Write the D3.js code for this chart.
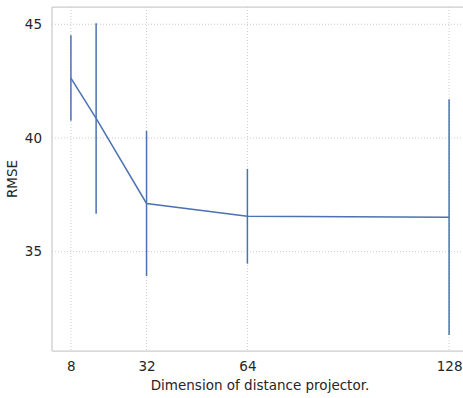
<!DOCTYPE html>
<html><head><meta charset="utf-8">
<script src="https://cdn.jsdelivr.net/npm/d3@7"></script>
<style>body{margin:0;background:#fff}svg{display:block}</style>
</head><body><svg id="c" width="463" height="398"></svg>
<script>
const dims = [8, 16, 32, 64, 128];
const rmse = [42.63, 40.86, 37.12, 36.56, 36.51];
const errLow = [40.76, 36.67, 33.93, 34.47, 31.33];
const errHigh = [44.52, 45.04, 40.31, 38.64, 41.70];
const xTicks = [8, 32, 64, 128];
const yTicks = [35, 40, 45];
const xLabel = "Dimension of distance projector.";
const yLabel = "RMSE";

const svg = d3.select("#c");
const L = 52, T = 7, R = 468, B = 351;
const x = d3.scaleLinear().domain([2, 134]).range([L, R]);
const y = d3.scaleLinear().domain([30.63, 45.76]).range([B, T]);
const font = "DejaVu Sans, sans-serif";
const color = "#4c72b0";

// grid
const g = svg.append("g");
g.selectAll("line.gx").data(xTicks).join("line")
  .attr("x1", d => x(d)).attr("x2", d => x(d)).attr("y1", T).attr("y2", B)
  .attr("stroke", "#cccccc").attr("stroke-width", 1).attr("stroke-dasharray", "1,2");
g.selectAll("line.gy").data(yTicks).join("line")
  .attr("y1", d => y(d)).attr("y2", d => y(d)).attr("x1", L).attr("x2", R)
  .attr("stroke", "#cccccc").attr("stroke-width", 1).attr("stroke-dasharray", "1,2");

// spines
svg.append("line").attr("x1", L).attr("x2", L).attr("y1", T).attr("y2", B).attr("stroke", "#cccccc").attr("stroke-width", 1.25);
svg.append("line").attr("x1", L).attr("x2", R).attr("y1", B).attr("y2", B).attr("stroke", "#cccccc").attr("stroke-width", 1.25);
svg.append("line").attr("x1", L).attr("x2", R).attr("y1", T).attr("y2", T).attr("stroke", "#cccccc").attr("stroke-width", 1.25);

// axes (no tick marks)
const xa = svg.append("g").attr("transform", `translate(0,${B})`)
  .call(d3.axisBottom(x).tickValues(xTicks).tickSize(0).tickPadding(10));
const ya = svg.append("g").attr("transform", `translate(${L},0)`)
  .call(d3.axisLeft(y).tickValues(yTicks).tickSize(0).tickPadding(10));
[xa, ya].forEach(a => {
  a.select(".domain").remove();
  a.selectAll("text").attr("font-family", font).attr("font-size", 13.5).attr("fill", "#262626");
});

// error bars
svg.selectAll("line.err").data(dims).join("line")
  .attr("x1", d => x(d)).attr("x2", d => x(d))
  .attr("y1", (d, i) => y(errLow[i])).attr("y2", (d, i) => y(errHigh[i]))
  .attr("stroke", color).attr("stroke-width", 1.5);

// line
const pts = dims.map((d, i) => [d, rmse[i]]);
svg.append("path").datum(pts)
  .attr("d", d3.line().x(d => x(d[0])).y(d => y(d[1])))
  .attr("fill", "none").attr("stroke", color).attr("stroke-width", 1.5);

// labels
svg.append("text").attr("x", (L + R) / 2).attr("y", 390)
  .attr("text-anchor", "middle").attr("font-family", font).attr("font-size", 13.5)
  .attr("fill", "#262626").text(xLabel);
svg.append("text").attr("transform", `translate(17,${(T + B) / 2}) rotate(-90)`)
  .attr("text-anchor", "middle").attr("font-family", font).attr("font-size", 13.5)
  .attr("fill", "#262626").text(yLabel);
</script></body></html>
